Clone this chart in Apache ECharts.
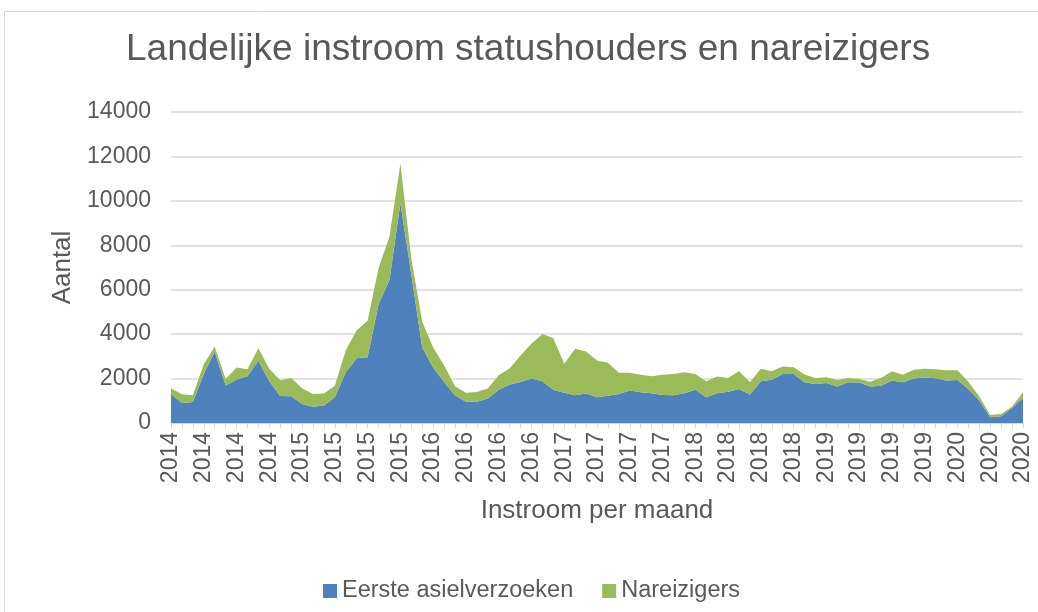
<!DOCTYPE html>
<html lang="nl">

<head>
    <meta charset="UTF-8">
    <title>Landelijke instroom</title>
    <script src="https://cdnjs.cloudflare.com/ajax/libs/echarts/6.0.0/echarts.min.js"></script>
    <style>
        body { margin: 0; background: #fff; }
        #main { width: 1038px; height: 612px; }
    </style>
</head>

<body>
    <div id="main"></div>

    <script type="text/javascript">
        // maanden jan 2014 t/m jul 2020
        const months = [
            '2014-01', '2014-02', '2014-03', '2014-04', '2014-05', '2014-06', '2014-07', '2014-08', '2014-09', '2014-10', '2014-11', '2014-12',
            '2015-01', '2015-02', '2015-03', '2015-04', '2015-05', '2015-06', '2015-07', '2015-08', '2015-09', '2015-10', '2015-11', '2015-12',
            '2016-01', '2016-02', '2016-03', '2016-04', '2016-05', '2016-06', '2016-07', '2016-08', '2016-09', '2016-10', '2016-11', '2016-12',
            '2017-01', '2017-02', '2017-03', '2017-04', '2017-05', '2017-06', '2017-07', '2017-08', '2017-09', '2017-10', '2017-11', '2017-12',
            '2018-01', '2018-02', '2018-03', '2018-04', '2018-05', '2018-06', '2018-07', '2018-08', '2018-09', '2018-10', '2018-11', '2018-12',
            '2019-01', '2019-02', '2019-03', '2019-04', '2019-05', '2019-06', '2019-07', '2019-08', '2019-09', '2019-10', '2019-11', '2019-12',
            '2020-01', '2020-02', '2020-03', '2020-04', '2020-05', '2020-06', '2020-07'
        ];

        const asielverzoeken = [
            1310, 900, 950, 2210, 3220, 1690, 1960, 2100, 2800, 1880, 1220, 1200,
            850, 730, 790, 1160, 2290, 2910, 2960, 5350, 6440, 9900, 6700, 3400,
            2500, 1850, 1250, 955, 955, 1100, 1500, 1730, 1850, 2000, 1880, 1500,
            1360, 1250, 1330, 1160, 1230, 1310, 1460, 1380, 1340, 1260, 1250, 1340,
            1500, 1160, 1340, 1410, 1530, 1280, 1880, 1950, 2210, 2210, 1830, 1760,
            1800, 1640, 1830, 1820, 1640, 1680, 1910, 1830, 2000, 2050, 2020, 1910,
            1940, 1530, 1010, 260, 300, 680, 1130
        ];

        const nareizigers = [
            250, 390, 300, 440, 220, 295, 540, 320, 560, 560, 710, 830,
            710, 570, 540, 520, 980, 1260, 1640, 1620, 1950, 1770, 700, 1160,
            900, 750, 400, 405, 445, 450, 650, 720, 1190, 1570, 2130, 2320,
            1310, 2090, 1890, 1650, 1480, 950, 800, 790, 770, 910, 960, 950,
            710, 720, 750, 620, 800, 550, 560, 380, 330, 300, 350, 270,
            260, 300, 200, 160, 220, 350, 420, 340, 400, 390, 400, 470,
            440, 330, 180, 100, 110, 60, 250
        ];

        const font = "'Liberation Sans', Arial, sans-serif";
        const grey = '#595959';

        const myChart = echarts.init(document.getElementById('main'));

        var option = {
            animation: false,
            textStyle: { fontFamily: font },
            title: {
                text: 'Landelijke instroom statushouders en nareizigers',
                left: 121,
                top: 26,
                textStyle: { fontSize: 37, fontWeight: 'normal', color: grey, fontFamily: font }
            },
            graphic: [{
                type: 'rect',
                shape: { x: 4.5, y: 11.5, width: 1060, height: 700 },
                style: { fill: 'none', stroke: '#d9d9d9', lineWidth: 1 },
                silent: true
            }],
            legend: {
                left: 318,
                top: 574,
                itemWidth: 14,
                itemHeight: 14,
                itemGap: 29,
                icon: 'rect',
                textStyle: { fontSize: 23.5, color: grey, fontFamily: font },
                data: ['Eerste asielverzoeken', 'Nareizigers']
            },
            grid: { left: 171, right: 15, top: 112, height: 311, containLabel: false },
            xAxis: {
                type: 'category',
                data: months,
                boundaryGap: false,
                name: 'Instroom per maand',
                nameLocation: 'middle',
                nameGap: 75,
                nameTextStyle: { fontSize: 26, color: grey, fontFamily: font },
                axisLine: { lineStyle: { color: '#d9d9d9', width: 1 } },
                axisTick: { show: true, interval: 0, length: 5, lineStyle: { color: '#d9d9d9' } },
                axisLabel: {
                    interval: 2,
                    rotate: 90,
                    margin: 9,
                    fontSize: 23,
                    color: grey,
                    fontFamily: font,
                    formatter: (v) => v.slice(0, 4)
                },
                splitLine: { show: false }
            },
            yAxis: {
                type: 'value',
                min: 0,
                max: 14000,
                interval: 2000,
                name: 'Aantal',
                nameLocation: 'middle',
                nameGap: 89,
                nameTextStyle: { fontSize: 26, color: grey, fontFamily: font },
                axisLine: { show: false },
                axisTick: { show: false },
                axisLabel: {
                    fontSize: 23, color: grey, margin: 20, fontFamily: font,
                    formatter: (v) => String(v)
                },
                splitLine: { lineStyle: { color: '#d9d9d9', width: 1.5 } }
            },
            series: [
                {
                    name: 'Eerste asielverzoeken',
                    type: 'line',
                    stack: 'totaal',
                    data: asielverzoeken,
                    showSymbol: false,
                    lineStyle: { width: 0 },
                    itemStyle: { color: '#4f81bd' },
                    areaStyle: { color: '#4f81bd', opacity: 1 }
                },
                {
                    name: 'Nareizigers',
                    type: 'line',
                    stack: 'totaal',
                    data: nareizigers,
                    showSymbol: false,
                    lineStyle: { width: 0 },
                    itemStyle: { color: '#9bbb59' },
                    areaStyle: { color: '#9bbb59', opacity: 1 }
                }
            ]
        };

        myChart.setOption(option);
    </script>
</body>

</html>
